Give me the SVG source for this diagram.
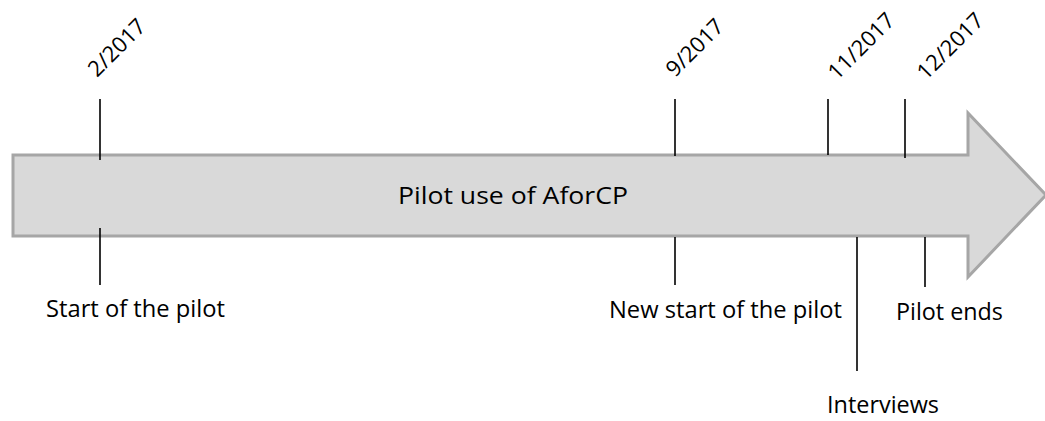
<svg xmlns="http://www.w3.org/2000/svg" width="1045" height="421" viewBox="0 0 1045 421">
<style>
.lbl{font-family:"Open Sans","Liberation Sans",sans-serif;font-size:24px;fill:#000}
.date{font-family:"Open Sans","Liberation Sans",sans-serif;font-size:22px;fill:#000}
.tick{stroke:#000;stroke-width:1.6;fill:none}
.arrow{fill:#d9d9d9;stroke:#a6a6a6;stroke-width:3;stroke-linejoin:miter}
</style>
<rect width="1045" height="421" fill="#fff"/>
<g id="arrow">
<polygon class="arrow" points="13,155 968,155 968,113 1046,195 968,277 968,236 13,236"/>
<text class="lbl" x="398" y="204" textLength="230" lengthAdjust="spacingAndGlyphs">Pilot use of AforCP</text>
</g>
<g id="connectors">
<line class="tick" x1="100" y1="99" x2="100" y2="160"/>
<line class="tick" x1="100" y1="228" x2="100" y2="285"/>
<line class="tick" x1="675" y1="99" x2="675" y2="156"/>
<line class="tick" x1="675" y1="237" x2="675" y2="285"/>
<line class="tick" x1="828" y1="99" x2="828" y2="155"/>
<line class="tick" x1="905" y1="99" x2="905" y2="158"/>
<line class="tick" x1="857" y1="237" x2="857" y2="371"/>
<line class="tick" x1="925" y1="237" x2="925" y2="287"/>
</g>
<g id="date-2-2017"><text class="date" transform="translate(97,78) rotate(-45)">2/2017</text></g>
<g id="date-9-2017"><text class="date" transform="translate(675,78) rotate(-45)">9/2017</text></g>
<g id="date-11-2017"><text class="date" transform="translate(837,81) rotate(-45)">11/2017</text></g>
<g id="date-12-2017"><text class="date" transform="translate(926,81) rotate(-45)">12/2017</text></g>
<g id="start-pilot"><text class="lbl" x="46" y="317" textLength="179" lengthAdjust="spacingAndGlyphs">Start of the pilot</text></g>
<g id="new-start"><text class="lbl" x="609" y="318" textLength="233" lengthAdjust="spacingAndGlyphs">New start of the pilot</text></g>
<g id="pilot-ends"><text class="lbl" x="896" y="320" textLength="107" lengthAdjust="spacingAndGlyphs">Pilot ends</text></g>
<g id="interviews"><text class="lbl" x="827" y="413" textLength="112" lengthAdjust="spacingAndGlyphs">Interviews</text></g>
</svg>
